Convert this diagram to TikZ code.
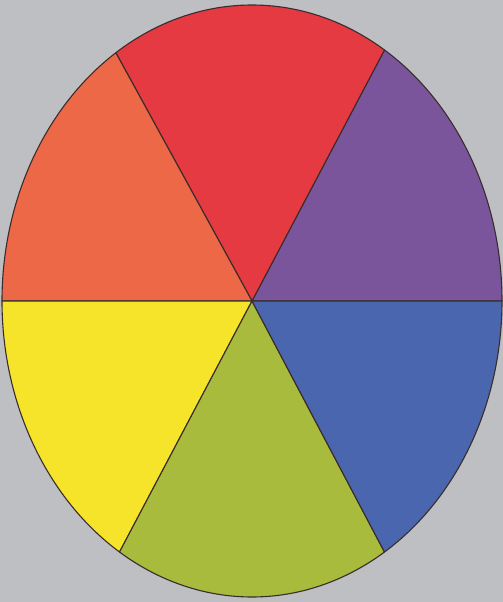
\documentclass[tikz,border=0pt]{standalone}
\usepackage{tikz}
\definecolor{bggray}{HTML}{BEBFC3}
\definecolor{edgedark}{HTML}{3A2C2C}
\definecolor{wheelred}{HTML}{E63A42}
\definecolor{wheelorange}{HTML}{EC6846}
\definecolor{wheelyellow}{HTML}{F5E42A}
\definecolor{wheelgreen}{HTML}{A9BB3C}
\definecolor{wheelblue}{HTML}{4A66AE}
\definecolor{wheelpurple}{HTML}{7A559C}

\begin{document}
\begin{tikzpicture}[
  x=1pt, y=1pt,
  sector/.style={draw=edgedark, line width=1.1pt, line join=round}
]
\fill[bggray] (0,0) rectangle (503,602);
\useasboundingbox (0,0) rectangle (503,602);
\coordinate (c) at (252,301);

\filldraw[sector, fill=wheelpurple] (c) -- ++(0:250 and 296) arc[start angle=0, end angle=58, x radius=250, y radius=296] -- cycle;
\filldraw[sector, fill=wheelred] (c) -- ++(58:250 and 296) arc[start angle=58, end angle=123, x radius=250, y radius=296] -- cycle;
\filldraw[sector, fill=wheelorange] (c) -- ++(123:250 and 296) arc[start angle=123, end angle=180, x radius=250, y radius=296] -- cycle;
\filldraw[sector, fill=wheelyellow] (c) -- ++(180:250 and 296) arc[start angle=180, end angle=238, x radius=250, y radius=296] -- cycle;
\filldraw[sector, fill=wheelgreen] (c) -- ++(238:250 and 296) arc[start angle=238, end angle=302, x radius=250, y radius=296] -- cycle;
\filldraw[sector, fill=wheelblue] (c) -- ++(302:250 and 296) arc[start angle=302, end angle=360, x radius=250, y radius=296] -- cycle;
\end{tikzpicture}
\end{document}
